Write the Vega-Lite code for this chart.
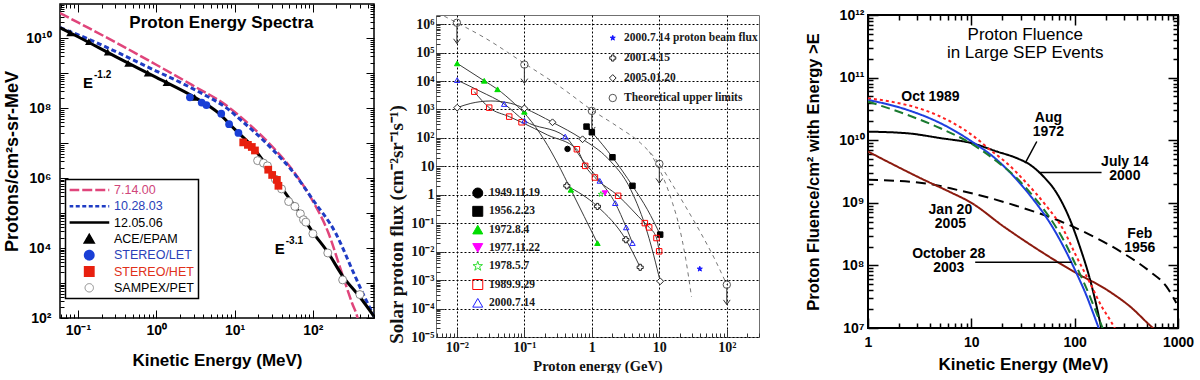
{
"$schema": "https://vega.github.io/schema/vega-lite/v6.json",
"background": "white",
"padding": {"left": 3, "top": -3, "right": 0, "bottom": 0},
"config": {"view": {"stroke": null}, "font": "Liberation Sans", "axis": {"domain": false, "grid": false, "labelOverlap": false, "labelFlush": false}},
"datasets": {
"p1lines": [
{"s":"7.14.00","E":0.0589,"F":5.25e10},{"s":"7.14.00","E":0.1,"F":2.82e10},{"s":"7.14.00","E":0.316,"F":7.24e9},{"s":"7.14.00","E":1,"F":1.74e9},{"s":"7.14.00","E":2.82,"F":4.68e8},{"s":"7.14.00","E":7.59,"F":1.26e8},{"s":"7.14.00","E":16.6,"F":2.95e7},{"s":"7.14.00","E":33.1,"F":6.46e6},{"s":"7.14.00","E":58.9,"F":1.38e6},{"s":"7.14.00","E":97.7,"F":2.4e5},{"s":"7.14.00","E":158,"F":2.69e4},{"s":"7.14.00","E":234,"F":1950},{"s":"7.14.00","E":316,"F":269},{"s":"7.14.00","E":372,"F":100},{"s":"7.14.00","E":398,"F":50},
{"s":"10.28.03","E":0.0589,"F":2.0e10},{"s":"10.28.03","E":0.141,"F":9.12e9},{"s":"10.28.03","E":0.316,"F":3.98e9},{"s":"10.28.03","E":1,"F":1.15e9},{"s":"10.28.03","E":2.19,"F":5.01e8},{"s":"10.28.03","E":3.98,"F":2.51e8},{"s":"10.28.03","E":7.94,"F":1.0e8},{"s":"10.28.03","E":12.6,"F":4.17e7},{"s":"10.28.03","E":20.0,"F":1.66e7},{"s":"10.28.03","E":30.2,"F":6.76e6},{"s":"10.28.03","E":57.5,"F":1.38e6},{"s":"10.28.03","E":100,"F":2.4e5},{"s":"10.28.03","E":195,"F":2.69e4},{"s":"10.28.03","E":331,"F":1950},{"s":"10.28.03","E":427,"F":550},{"s":"10.28.03","E":603,"F":112},
{"s":"12.05.06","E":0.0589,"F":2.0e10},{"s":"12.05.06","E":0.1,"F":1.1e10},{"s":"12.05.06","E":0.316,"F":2.82e9},{"s":"12.05.06","E":1,"F":7.59e8},{"s":"12.05.06","E":3.09,"F":2.04e8},{"s":"12.05.06","E":6.31,"F":7.08e7},{"s":"12.05.06","E":10,"F":2.51e7},{"s":"12.05.06","E":16.6,"F":8.32e6},{"s":"12.05.06","E":33.1,"F":1.0e6},{"s":"12.05.06","E":43.7,"F":3.98e5},{"s":"12.05.06","E":58.9,"F":1.58e5},{"s":"12.05.06","E":75.9,"F":7.08e4},{"s":"12.05.06","E":100,"F":2.82e4},{"s":"12.05.06","E":155,"F":7590},{"s":"12.05.06","E":240,"F":1585},{"s":"12.05.06","E":398,"F":398},{"s":"12.05.06","E":603,"F":112}
],
"p1pts": [
{"s":"ACE/EPAM","E":0.0794,"F":1.41e10},{"s":"ACE/EPAM","E":0.138,"F":7.94e9},{"s":"ACE/EPAM","E":0.24,"F":3.98e9},{"s":"ACE/EPAM","E":0.437,"F":1.91e9},{"s":"ACE/EPAM","E":0.776,"F":1.0e9},{"s":"ACE/EPAM","E":1.35,"F":5.37e8},{"s":"ACE/EPAM","E":3.09,"F":2.04e8},
{"s":"STEREO/LET","E":2.69,"F":2.04e8},{"s":"STEREO/LET","E":3.8,"F":1.45e8},{"s":"STEREO/LET","E":4.37,"F":1.23e8},{"s":"STEREO/LET","E":6.76,"F":6.92e7},{"s":"STEREO/LET","E":8.51,"F":3.47e7},{"s":"STEREO/LET","E":11.2,"F":1.95e7},
{"s":"SAMPEX/PET","E":19.7,"F":3.16e6},{"s":"SAMPEX/PET","E":23.4,"F":2.69e6},{"s":"SAMPEX/PET","E":26.3,"F":2.24e6},{"s":"SAMPEX/PET","E":33.1,"F":9.33e5},{"s":"SAMPEX/PET","E":39.8,"F":4.9e5},{"s":"SAMPEX/PET","E":49.0,"F":2.14e5},{"s":"SAMPEX/PET","E":58.9,"F":1.55e5},{"s":"SAMPEX/PET","E":69.2,"F":9.55e4},{"s":"SAMPEX/PET","E":75.9,"F":6.46e4},{"s":"SAMPEX/PET","E":81.3,"F":5.5e4},{"s":"SAMPEX/PET","E":100,"F":2.57e4},{"s":"SAMPEX/PET","E":155,"F":7240},{"s":"SAMPEX/PET","E":240,"F":1230},{"s":"SAMPEX/PET","E":398,"F":468},
{"s":"STEREO/HET","E":12.9,"F":1.05e7},{"s":"STEREO/HET","E":14.8,"F":8.91e6},{"s":"STEREO/HET","E":16.6,"F":7.76e6},{"s":"STEREO/HET","E":18.2,"F":6.17e6},{"s":"STEREO/HET","E":26.9,"F":1.74e6},{"s":"STEREO/HET","E":30.2,"F":1.23e6},{"s":"STEREO/HET","E":34.7,"F":8.91e5},{"s":"STEREO/HET","E":36.3,"F":6.03e5}
],
"p1text": [
{"k":"title","t":"Proton Energy Spectra","sup":"","E":6.8,"F":2.75e10},
{"k":"E","t":"E","sup":"-1.2","E":0.116,"F":5.4e8},
{"k":"E","t":"E","sup":"-3.1","E":32.6,"F":9500}
],
"p2lines": [
{"s":"2005","E":0.0101,"F":1160},{"s":"2005","E":0.0161,"F":1640},{"s":"2005","E":0.0319,"F":1990},{"s":"2005","E":0.0631,"F":1640},{"s":"2005","E":0.1,"F":1100},{"s":"2005","E":0.261,"F":355},{"s":"2005","E":0.728,"F":89.8},{"s":"2005","E":1.71,"F":19.4},{"s":"2005","E":3.78,"F":1.5},{"s":"2005","E":6.68,"F":0.0452},{"s":"2005","E":10.3,"F":0.000912},
{"s":"1956","E":0.834,"F":250},{"s":"1956","E":1.0,"F":158},{"s":"1956","E":2.02,"F":20.9},{"s":"1956","E":4.0,"F":2.07},{"s":"1956","E":6.68,"F":0.298},{"s":"1956","E":10.3,"F":0.0398},
{"s":"1972","E":0.0101,"F":41700},{"s":"1972","E":0.0254,"F":10200},{"s":"1972","E":0.04,"F":5130},{"s":"1972","E":0.0707,"F":1640},{"s":"1972","E":0.111,"F":561},{"s":"1972","E":0.197,"F":85.1},{"s":"1972","E":0.31,"F":12.9},{"s":"1972","E":0.489,"F":1.5},{"s":"1972","E":0.769,"F":0.174},{"s":"1972","E":1.21,"F":0.02},
{"s":"1989","E":0.0181,"F":4230},{"s":"1989","E":0.0301,"F":1160},{"s":"1989","E":0.0596,"F":561},{"s":"1989","E":0.0908,"F":355},{"s":"1989","E":0.22,"F":127},{"s":"1989","E":0.6,"F":40},{"s":"1989","E":0.796,"F":10.4},{"s":"1989","E":1.11,"F":4.06},{"s":"1989","E":2.45,"F":0.923},{"s":"1989","E":6.1,"F":0.101},{"s":"1989","E":7.07,"F":0.0714},{"s":"1989","E":9.08,"F":0.0302},{"s":"1989","E":9.95,"F":0.0103},
{"s":"2000","E":0.0101,"F":10800},{"s":"2000","E":0.0227,"F":4230},{"s":"2000","E":0.0502,"F":1560},{"s":"2000","E":0.1,"F":406},{"s":"2000","E":0.403,"F":111},{"s":"2000","E":0.728,"F":16.9},{"s":"2000","E":1.31,"F":3.1},{"s":"2000","E":2.22,"F":0.51},{"s":"2000","E":3.23,"F":0.0714},{"s":"2000","E":4.0,"F":0.0201},
{"s":"2001","E":0.426,"F":2.07},{"s":"2001","E":1.21,"F":0.39},{"s":"2001","E":3.19,"F":0.0264},{"s":"2001","E":5.2,"F":0.00282}
],
"p2dash": [
{"s":"env","E":0.00649,"F":1.91e6},{"s":"env","E":0.01,"F":1.12e6},{"s":"env","E":0.0254,"F":3.39e5},{"s":"env","E":0.1,"F":41700},{"s":"env","E":0.347,"F":6030},{"s":"env","E":1,"F":955},{"s":"env","E":2.4,"F":251},{"s":"env","E":5.32,"F":64.6},{"s":"env","E":10,"F":12.3},{"s":"env","E":15.7,"F":2.24},{"s":"env","E":26.1,"F":0.298},{"s":"env","E":41.2,"F":0.0452},{"s":"env","E":64.9,"F":0.00603},{"s":"env","E":100,"F":0.00069},
{"s":"env2","E":7.07,"F":33.1},{"s":"env2","E":11.8,"F":3.36},{"s":"env2","E":15.7,"F":0.51},{"s":"env2","E":19.7,"F":0.0776},{"s":"env2","E":24.7,"F":0.00525},{"s":"env2","E":30.0,"F":0.000257}
],
"p2arrow": [
{"E":0.01,"F0":8.9e5,"F2":2.09e5},{"E":0.1,"F0":30000,"F2":8300},{"E":1,"F0":708,"F2":166},{"E":10,"F0":9.8,"F2":2.57},{"E":100,"F0":0.00055,"F2":0.000138}
],
"p2ev": [
{"ev":"1949.11.19","E":0.436,"F":41.1},
{"ev":"1956.2.23","E":0.834,"F":250},{"ev":"1956.2.23","E":1.0,"F":158},{"ev":"1956.2.23","E":2.02,"F":20.9},{"ev":"1956.2.23","E":4.0,"F":2.07},{"ev":"1956.2.23","E":10.3,"F":0.0398},
{"ev":"1972.8.4","E":0.0101,"F":41700},{"ev":"1972.8.4","E":0.0254,"F":10200},{"ev":"1972.8.4","E":0.04,"F":5130},{"ev":"1972.8.4","E":0.1,"F":832},{"ev":"1972.8.4","E":0.489,"F":1.5},{"ev":"1972.8.4","E":1.21,"F":0.02},
{"ev":"1977.11.22","E":1.56,"F":1.14},
{"ev":"1978.5.7","E":1.36,"F":1.05},
{"ev":"1989.9.29","E":0.0181,"F":4230},{"ev":"1989.9.29","E":0.0301,"F":1160},{"ev":"1989.9.29","E":0.0596,"F":561},{"ev":"1989.9.29","E":0.0908,"F":355},{"ev":"1989.9.29","E":0.6,"F":40},{"ev":"1989.9.29","E":0.796,"F":10.4},{"ev":"1989.9.29","E":1.11,"F":4.06},{"ev":"1989.9.29","E":2.45,"F":0.923},{"ev":"1989.9.29","E":6.1,"F":0.101},{"ev":"1989.9.29","E":7.07,"F":0.0714},{"ev":"1989.9.29","E":9.08,"F":0.0302},{"ev":"1989.9.29","E":9.95,"F":0.0103},
{"ev":"2000.7.14","E":0.0101,"F":10800},{"ev":"2000.7.14","E":0.0502,"F":1560},{"ev":"2000.7.14","E":0.1,"F":406},{"ev":"2000.7.14","E":0.403,"F":111},{"ev":"2000.7.14","E":1.31,"F":3.1},{"ev":"2000.7.14","E":2.22,"F":0.51},{"ev":"2000.7.14","E":3.23,"F":0.0714},{"ev":"2000.7.14","E":4.0,"F":0.0201}
],
"p2ref": [
{"ref":"2000.7.14 proton beam flux","E":39.8,"F":0.00247},
{"ref":"2001.4.15","E":0.426,"F":2.07},{"ref":"2001.4.15","E":1.21,"F":0.39},{"ref":"2001.4.15","E":3.19,"F":0.0264},{"ref":"2001.4.15","E":5.2,"F":0.00282},
{"ref":"2005.01.20","E":0.0101,"F":1160},{"ref":"2005.01.20","E":0.1,"F":1100},{"ref":"2005.01.20","E":0.261,"F":355},{"ref":"2005.01.20","E":0.728,"F":89.8},{"ref":"2005.01.20","E":10.3,"F":0.000912},
{"ref":"Theoretical upper limits","E":0.01,"F":1.12e6},{"ref":"Theoretical upper limits","E":0.1,"F":38000},{"ref":"Theoretical upper limits","E":1,"F":891},{"ref":"Theoretical upper limits","E":10,"F":12.3},{"ref":"Theoretical upper limits","E":100,"F":0.00069}
],
"p3lines": [
{"s":"Feb 1956","E":1,"F":2.33e9},{"s":"Feb 1956","E":3.47,"F":2.06e9},{"s":"Feb 1956","E":7.27,"F":1.61e9},{"s":"Feb 1956","E":15.2,"F":1.19e9},{"s":"Feb 1956","E":32.0,"F":8.22e8},{"s":"Feb 1956","E":67.0,"F":5.36e8},{"s":"Feb 1956","E":141,"F":3.08e8},{"s":"Feb 1956","E":295,"F":1.57e8},{"s":"Feb 1956","E":533,"F":8.02e7},{"s":"Feb 1956","E":771,"F":4.62e7},{"s":"Feb 1956","E":964,"F":2.51e7},
{"s":"Jan 20 2005","E":1,"F":6.59e9},{"s":"Jan 20 2005","E":1.65,"F":4.3e9},{"s":"Jan 20 2005","E":3.47,"F":2.33e9},{"s":"Jan 20 2005","E":6.04,"F":1.52e9},{"s":"Jan 20 2005","E":10.1,"F":9.89e8},{"s":"Jan 20 2005","E":20.5,"F":4.19e8},{"s":"Jan 20 2005","E":49.9,"F":1.57e8},{"s":"Jan 20 2005","E":97.0,"F":8.02e7},{"s":"Jan 20 2005","E":204,"F":4.09e7},{"s":"Jan 20 2005","E":342,"F":2.22e7},{"s":"Jan 20 2005","E":574,"F":1.0e7},{"s":"Jan 20 2005","E":650,"F":8.5e6},
{"s":"Aug 1972","E":1,"F":1.37e10},{"s":"Aug 1972","E":2.4,"F":1.29e10},{"s":"Aug 1972","E":5.02,"F":1.08e10},{"s":"Aug 1972","E":10.1,"F":8.96e9},{"s":"Aug 1972","E":17.7,"F":6.59e9},{"s":"Aug 1972","E":27.6,"F":5.16e9},{"s":"Aug 1972","E":37.1,"F":4.04e9},{"s":"Aug 1972","E":49.9,"F":2.63e9},{"s":"Aug 1972","E":67.0,"F":1.43e9},{"s":"Aug 1972","E":90.2,"F":5.36e8},{"s":"Aug 1972","E":112,"F":2.01e8},{"s":"Aug 1972","E":141,"F":5.9e7},{"s":"Aug 1972","E":163,"F":2.22e7},{"s":"Aug 1972","E":182,"F":9.4e6},
{"s":"July 14 2000","E":1,"F":4.41e10},{"s":"July 14 2000","E":2.4,"F":3.05e10},{"s":"July 14 2000","E":5.02,"F":1.87e10},{"s":"July 14 2000","E":10.1,"F":9.53e9},{"s":"July 14 2000","E":17.7,"F":4.85e9},{"s":"July 14 2000","E":27.6,"F":2.33e9},{"s":"July 14 2000","E":39.9,"F":1.12e9},{"s":"July 14 2000","E":57.8,"F":4.74e8},{"s":"July 14 2000","E":77.8,"F":2.01e8},{"s":"July 14 2000","E":104,"F":7.55e7},{"s":"July 14 2000","E":131,"F":3.2e7},{"s":"July 14 2000","E":151,"F":1.73e7},{"s":"July 14 2000","E":173,"F":9.4e6},
{"s":"Oct 28 2003","E":1,"F":4.14e10},{"s":"Oct 28 2003","E":2.4,"F":2.54e10},{"s":"Oct 28 2003","E":5.02,"F":1.55e10},{"s":"Oct 28 2003","E":10.1,"F":8.73e9},{"s":"Oct 28 2003","E":17.7,"F":4.57e9},{"s":"Oct 28 2003","E":27.6,"F":2.48e9},{"s":"Oct 28 2003","E":39.9,"F":1.26e9},{"s":"Oct 28 2003","E":57.8,"F":5.69e8},{"s":"Oct 28 2003","E":77.8,"F":2.57e8},{"s":"Oct 28 2003","E":104,"F":9.64e7},{"s":"Oct 28 2003","E":136,"F":3.62e7},{"s":"Oct 28 2003","E":163,"F":1.73e7},{"s":"Oct 28 2003","E":189,"F":9.4e6},
{"s":"Oct 1989","E":1,"F":4.68e10},{"s":"Oct 1989","E":1.65,"F":4.14e10},{"s":"Oct 1989","E":3.47,"F":3.05e10},{"s":"Oct 1989","E":6.27,"F":1.99e10},{"s":"Oct 1989","E":10.1,"F":1.22e10},{"s":"Oct 1989","E":15.2,"F":7.01e9},{"s":"Oct 1989","E":22.1,"F":4.3e9},{"s":"Oct 1989","E":32.0,"F":2.33e9},{"s":"Oct 1989","E":53.7,"F":8.73e8},{"s":"Oct 1989","E":77.8,"F":3.71e8},{"s":"Oct 1989","E":104,"F":1.39e8},{"s":"Oct 1989","E":141,"F":5.22e7},{"s":"Oct 1989","E":182,"F":2.22e7},{"s":"Oct 1989","E":219,"F":1.36e7},{"s":"Oct 1989","E":254,"F":8.9e6}
],
"p3text": [
{"t":"Oct 1989","E":4.02,"F":4.85e10},
{"t":"Aug\n1972","E":55.7,"F":2.24e10},
{"t":"July 14\n2000","E":306,"F":4.41e9},
{"t":"Jan 20\n2005","E":6.27,"F":7.55e8},
{"t":"October 28\n2003","E":6.04,"F":1.53e8},
{"t":"Feb\n1956","E":427,"F":3.2e8}
],
"p3title": [{"t":"Proton Fluence\nin Large SEP Events","E":33.2,"F":4.8e11}],
"p3lead": [
{"E":43.0,"E2":33.2,"F":9.53e9,"F2":4.3e9},
{"E":182,"E2":44.7,"F":3.05e9,"F2":3.05e9},
{"E":10.9,"E2":93.5,"F":1.12e8,"F2":1.12e8}
]
},
"bounds": "flush",
"spacing": 62,
"resolve": {"scale": {"color": "independent", "fill": "independent", "stroke": "independent", "shape": "independent", "size": "independent", "strokeDash": "independent", "strokeWidth": "independent"}},
"hconcat": [
{
"width": 314, "height": 314,
"view": {"stroke": "black", "strokeWidth": 1.5},
"resolve": {"axis": {"x": "independent", "y": "independent"}},
"encoding": {
"x": {"field": "E", "type": "quantitative", "scale": {"type": "log", "domain": [0.059, 603], "nice": false}, "axis": null},
"y": {"field": "F", "type": "quantitative", "scale": {"type": "log", "domain": [100, 9.5e10], "nice": false}, "axis": null}
},
"layer": [
{"data": {"name": "p1lines"}, "transform": [{"filter": "datum.s == '7.14.00'"}],
 "mark": {"type": "line", "color": "#e0457b", "strokeWidth": 2.5, "strokeDash": [10, 3], "clip": true, "interpolate": "monotone"},
 "encoding": {
  "x": {"field": "E", "type": "quantitative", "scale": {"type": "log", "domain": [0.059, 603], "nice": false},
   "axis": {"orient": "top", "labels": false, "title": null, "tickCount": 20, "tickColor": "black", "tickWidth": 1, "tickSize": {"condition": {"test": "abs(log(datum.value)/LN10 - round(log(datum.value)/LN10)) < 0.000001", "value": -8}, "value": -4}}},
  "y": {"field": "F", "type": "quantitative", "scale": {"type": "log", "domain": [100, 9.5e10], "nice": false},
   "axis": {"orient": "right", "labels": false, "title": null, "tickCount": 20, "tickColor": "black", "tickWidth": 1, "tickSize": {"condition": {"test": "abs(log(datum.value)/LN10 - round(log(datum.value)/LN10)) < 0.000001", "value": -8}, "value": -4}}}
 }},
{"data": {"name": "p1lines"}, "transform": [{"filter": "datum.s == '10.28.03'"}],
 "mark": {"type": "line", "color": "#1f3cc4", "strokeWidth": 3, "strokeDash": [5, 3], "clip": true, "interpolate": "monotone"}},
{"data": {"name": "p1lines"}, "transform": [{"filter": "datum.s == '12.05.06'"}],
 "mark": {"type": "line", "strokeWidth": 3, "clip": true, "interpolate": "monotone"},
 "encoding": {
  "x": {"field": "E", "type": "quantitative", "scale": {"type": "log", "domain": [0.059, 603], "nice": false},
   "axis": {"orient": "bottom", "title": "Kinetic Energy (MeV)", "titleFont": "Liberation Sans", "titleFontSize": 17, "titleFontWeight": "bold", "titleColor": "black", "titlePadding": 11,
    "labelFont": "Liberation Sans", "labelFontSize": 14, "labelFontWeight": "bold", "labelColor": "black", "labelPadding": 13,
    "tickCount": 20, "tickColor": "black", "tickWidth": 1, "tickSize": {"condition": {"test": "abs(log(datum.value)/LN10 - round(log(datum.value)/LN10)) < 0.000001", "value": -8}, "value": -4},
    "labelExpr": "abs(log(datum.value)/LN10 - round(log(datum.value)/LN10)) < 0.000001 ? ['10⁻⁵','10⁻⁴','10⁻³','10⁻²','10⁻¹','10⁰','10¹','10²','10³','10⁴','10⁵','10⁶','10⁷','10⁸','10⁹','10¹⁰','10¹¹','10¹²'][round(log(datum.value)/LN10)+5] : ''"}},
  "y": {"field": "F", "type": "quantitative", "scale": {"type": "log", "domain": [100, 9.5e10], "nice": false},
   "axis": {"orient": "left", "title": "Protons/cm²s-sr-MeV", "titleFont": "Liberation Sans", "titleFontSize": 18, "titleFontWeight": "bold", "titleColor": "black", "titlePadding": 4,
    "labelFont": "Liberation Sans", "labelFontSize": 14, "labelFontWeight": "bold", "labelColor": "black", "labelPadding": 17,
    "tickCount": 20, "tickColor": "black", "tickWidth": 1, "tickSize": {"condition": {"test": "abs(log(datum.value)/LN10 - round(log(datum.value)/LN10)) < 0.000001", "value": -8}, "value": -4},
    "labelExpr": "abs(log(datum.value)/LN10 - round(log(datum.value)/LN10)) < 0.000001 && round(log(datum.value)/LN10) % 2 == 0 ? ['10⁻⁵','10⁻⁴','10⁻³','10⁻²','10⁻¹','10⁰','10¹','10²','10³','10⁴','10⁵','10⁶','10⁷','10⁸','10⁹','10¹⁰','10¹¹','10¹²'][round(log(datum.value)/LN10)+5] : ''"}},
  "color": {"field": "s", "type": "nominal",
   "scale": {"domain": ["7.14.00","10.28.03","12.05.06","ACE/EPAM","STEREO/LET","STEREO/HET","SAMPEX/PET"], "range": ["#e0457b","#1f3cc4","black","black","#1a3fd6","#e8200f","#888888"]},
   "legend": {"title": null, "orient": "none", "legendX": 5.5, "legendY": 175.5, "values": ["7.14.00","10.28.03","12.05.06","ACE/EPAM","STEREO/LET","STEREO/HET","SAMPEX/PET"],
    "padding": 4, "fillColor": "white", "strokeColor": "black", "labelFont": "Liberation Sans", "labelFontSize": 12.5, "labelOffset": 18.5, "symbolOffset": 13.5,
    "symbolSize": 1600, "symbolType": "stroke", "symbolStrokeWidth": 2.5, "clipHeight": 13, "rowPadding": 3.3,
    "encode": {
     "symbols": {"update": {
      "shape": {"signal": "datum.value == 'ACE/EPAM' ? 'triangle-up' : datum.value == 'STEREO/HET' ? 'square' : (datum.value == 'STEREO/LET' || datum.value == 'SAMPEX/PET') ? 'circle' : 'stroke'"},
      "size": {"signal": "(datum.value == 'ACE/EPAM' || datum.value == 'STEREO/HET' || datum.value == 'STEREO/LET' || datum.value == 'SAMPEX/PET') ? 70 : 1600"},
      "fill": {"signal": "datum.value == 'ACE/EPAM' ? 'black' : datum.value == 'STEREO/LET' ? '#1a3fd6' : datum.value == 'STEREO/HET' ? '#e8200f' : datum.value == 'SAMPEX/PET' ? 'white' : 'transparent'"},
      "stroke": {"signal": "datum.value == '7.14.00' ? '#e0457b' : datum.value == '10.28.03' ? '#1f3cc4' : datum.value == '12.05.06' ? 'black' : datum.value == 'SAMPEX/PET' ? '#888888' : 'transparent'"},
      "strokeWidth": {"signal": "datum.value == 'SAMPEX/PET' ? 1 : 2.5"},
      "strokeDash": {"signal": "datum.value == '7.14.00' ? [10,3] : datum.value == '10.28.03' ? [4,2.5] : [1,0]"},
      "opacity": {"value": 1}
     }},
     "labels": {"update": {"fill": {"signal": "datum.value == '7.14.00' ? '#d0457a' : (datum.value == '10.28.03' || datum.value == 'STEREO/LET') ? '#2a3fb8' : datum.value == 'STEREO/HET' ? '#e0301a' : 'black'"}}},
     "legend": {"update": {"strokeWidth": {"value": 1.5}}}
    }}}
 }},
{"data": {"name": "p1pts"}, "transform": [{"filter": "datum.s == 'SAMPEX/PET'"}],
 "mark": {"type": "point", "shape": "circle", "filled": false, "fill": "white", "stroke": "#8a8a8a", "strokeWidth": 1, "size": 64, "opacity": 1}},
{"data": {"name": "p1pts"}, "transform": [{"filter": "datum.s != 'SAMPEX/PET'"}],
 "mark": {"type": "point", "filled": true, "size": 60, "opacity": 1},
 "encoding": {
  "shape": {"field": "s", "type": "nominal", "scale": {"domain": ["ACE/EPAM","STEREO/LET","STEREO/HET"], "range": ["triangle-up","circle","square"]}, "legend": null},
  "fill": {"field": "s", "type": "nominal", "scale": {"domain": ["ACE/EPAM","STEREO/LET","STEREO/HET"], "range": ["black","#1a3fd6","#e8200f"]}, "legend": null}
 }},
{"data": {"name": "p1text"}, "transform": [{"filter": "datum.k == 'title'"}],
 "mark": {"type": "text", "font": "Liberation Sans", "fontSize": 17, "fontWeight": "bold", "align": "center", "baseline": "middle", "color": "black"},
 "encoding": {"text": {"field": "t"}}},
{"data": {"name": "p1text"}, "transform": [{"filter": "datum.k == 'E'"}],
 "mark": {"type": "text", "font": "Liberation Sans", "fontSize": 15, "fontWeight": "bold", "align": "left", "baseline": "middle", "color": "black"},
 "encoding": {"text": {"field": "t"}}},
{"data": {"name": "p1text"}, "transform": [{"filter": "datum.k == 'E'"}],
 "mark": {"type": "text", "font": "Liberation Sans", "fontSize": 10, "fontWeight": "bold", "align": "left", "baseline": "middle", "color": "black", "dx": 11, "dy": -8},
 "encoding": {"text": {"field": "sup"}}}
]
},
{
"bounds": "flush",
"spacing": 10,
"resolve": {"scale": {"color": "independent", "fill": "independent", "stroke": "independent", "shape": "independent", "size": "independent", "strokeDash": "independent", "strokeWidth": "independent"}},
"vconcat": [
{"width": 1, "height": 1, "data": {"values": [{"a": 1}]}, "mark": {"type": "point", "opacity": 0, "size": 0, "strokeWidth": 0}, "view": {"stroke": null}},
{
"bounds": "flush",
"spacing": 109,
"resolve": {"scale": {"color": "independent", "fill": "independent", "stroke": "independent", "shape": "independent", "size": "independent", "strokeDash": "independent", "strokeWidth": "independent"}},
"hconcat": [
{
"width": 323, "height": 322,
"view": {"stroke": "#707070", "strokeWidth": 1},
"resolve": {"axis": {"x": "independent", "y": "independent"}, "scale": {"fill": "independent", "stroke": "independent", "shape": "independent", "size": "independent"}},
"encoding": {
"x": {"field": "E", "type": "quantitative", "scale": {"type": "log", "domain": [0.0049, 300], "nice": false}, "axis": null},
"y": {"field": "F", "type": "quantitative", "scale": {"type": "log", "domain": [1e-5, 2.1e6], "nice": false}, "axis": null}
},
"layer": [
{"data": {"name": "p2dash"},
 "mark": {"type": "line", "color": "#777777", "strokeWidth": 1, "strokeDash": [4, 4], "clip": true, "interpolate": "monotone"},
 "encoding": {
  "detail": {"field": "s"},
  "x": {"field": "E", "type": "quantitative", "scale": {"type": "log", "domain": [0.0049, 300], "nice": false},
   "axis": {"orient": "bottom", "title": "Proton energy (GeV)", "titleFont": "Liberation Serif", "titleFontSize": 14.5, "titleFontWeight": "bold", "titleColor": "#111", "titlePadding": 1,
    "labelFont": "Liberation Serif", "labelFontSize": 14, "labelFontWeight": "bold", "labelColor": "#111", "labelPadding": 11,
    "tickCount": 20, "tickColor": "#333", "tickWidth": 1, "tickSize": {"condition": {"test": "abs(log(datum.value)/LN10 - round(log(datum.value)/LN10)) < 0.000001", "value": -8}, "value": -4},
    "grid": true, "gridColor": "black", "gridDash": [2, 2], "gridWidth": 1, "gridOpacity": {"condition": {"test": "abs(log(datum.value)/LN10 - round(log(datum.value)/LN10)) < 0.000001", "value": 1}, "value": 0},
    "labelExpr": "abs(log(datum.value)/LN10 - round(log(datum.value)/LN10)) < 0.000001 ? ['10⁻⁵','10⁻⁴','10⁻³','10⁻²','10⁻¹','1','10','10²','10³','10⁴','10⁵','10⁶'][round(log(datum.value)/LN10)+5] : ''"}},
  "y": {"field": "F", "type": "quantitative", "scale": {"type": "log", "domain": [1e-5, 2.1e6], "nice": false},
   "axis": {"orient": "left", "title": "Solar proton flux (cm⁻²sr⁻¹s⁻¹)", "titleFont": "Liberation Serif", "titleFontSize": 19, "titleFontWeight": "bold", "titleColor": "#111", "titleX": -30, "titleY": 209,
    "labelFont": "Liberation Serif", "labelFontSize": 14, "labelFontWeight": "bold", "labelColor": "#111", "labelPadding": 10,
    "tickCount": 20, "tickColor": "#333", "tickWidth": 1, "tickSize": {"condition": {"test": "abs(log(datum.value)/LN10 - round(log(datum.value)/LN10)) < 0.000001", "value": -8}, "value": -4},
    "grid": true, "gridColor": "black", "gridDash": [2, 2], "gridWidth": 1, "gridOpacity": {"condition": {"test": "abs(log(datum.value)/LN10 - round(log(datum.value)/LN10)) < 0.000001", "value": 1}, "value": 0},
    "labelExpr": "abs(log(datum.value)/LN10 - round(log(datum.value)/LN10)) < 0.000001 ? ['10⁻⁵','10⁻⁴','10⁻³','10⁻²','10⁻¹','1','10','10²','10³','10⁴','10⁵','10⁶'][round(log(datum.value)/LN10)+5] : ''"}}
 }},
{"data": {"name": "p2lines"},
 "mark": {"type": "line", "color": "#3a3a3a", "strokeWidth": 1, "clip": true, "interpolate": "monotone"},
 "encoding": {"detail": {"field": "s"}}},
{"data": {"name": "p2arrow"},
 "mark": {"type": "rule", "color": "#333333", "strokeWidth": 1},
 "encoding": {"y": {"field": "F0", "type": "quantitative", "scale": {"type": "log", "domain": [1e-5, 2.1e6], "nice": false}, "axis": null}, "y2": {"field": "F2"}}},
{"data": {"name": "p2arrow"},
 "mark": {"type": "point", "shape": "M-1,-1.4L0,0L1,-1.4", "filled": false, "fill": "transparent", "stroke": "#333333", "strokeWidth": 1, "size": 45, "opacity": 1},
 "encoding": {"y": {"field": "F2", "type": "quantitative", "scale": {"type": "log", "domain": [1e-5, 2.1e6], "nice": false}, "axis": null}}},
{"data": {"name": "p2ev"},
 "mark": {"type": "point", "size": 30, "strokeWidth": 1, "opacity": 1},
 "encoding": {
  "shape": {"field": "ev", "type": "nominal", "scale": {"domain": ["1949.11.19","1956.2.23","1972.8.4","1977.11.22","1978.5.7","1989.9.29","2000.7.14"], "range": ["circle","square","triangle-up","triangle-down","M0,-1L0.2245,-0.309L0.951,-0.309L0.363,0.118L0.588,0.809L0,0.382L-0.588,0.809L-0.363,0.118L-0.951,-0.309L-0.2245,-0.309Z","square","triangle-up"]},
   "legend": {"title": null, "orient": "none", "legendX": 36, "legendY": 172, "padding": 0, "labelFont": "Liberation Serif", "labelFontSize": 11.5, "labelFontWeight": "bold", "labelColor": "#1a1a1a", "labelOffset": 5.5, "clipHeight": 12, "rowPadding": 6.3, "symbolStrokeWidth": 1}},
  "fill": {"field": "ev", "type": "nominal", "scale": {"domain": ["1949.11.19","1956.2.23","1972.8.4","1977.11.22","1978.5.7","1989.9.29","2000.7.14"], "range": ["black","black","#00dd00","#ff00ff","transparent","transparent","transparent"]},
   "legend": {"title": null, "orient": "none", "legendX": 36, "legendY": 172, "padding": 0, "labelFont": "Liberation Serif", "labelFontSize": 11.5, "labelFontWeight": "bold", "labelColor": "#1a1a1a", "labelOffset": 5.5, "clipHeight": 12, "rowPadding": 6.3, "symbolStrokeWidth": 1}},
  "stroke": {"field": "ev", "type": "nominal", "scale": {"domain": ["1949.11.19","1956.2.23","1972.8.4","1977.11.22","1978.5.7","1989.9.29","2000.7.14"], "range": ["black","black","#00dd00","#ff00ff","#33dd33","#ff0000","#2020ff"]},
   "legend": {"title": null, "orient": "none", "legendX": 36, "legendY": 172, "padding": 0, "labelFont": "Liberation Serif", "labelFontSize": 11.5, "labelFontWeight": "bold", "labelColor": "#1a1a1a", "labelOffset": 5.5, "clipHeight": 12, "rowPadding": 6.3, "symbolStrokeWidth": 1}}
 }},
{"data": {"name": "p2ref"},
 "mark": {"type": "point", "strokeWidth": 1, "opacity": 1},
 "encoding": {
  "shape": {"field": "ref", "type": "nominal", "scale": {"domain": ["2000.7.14 proton beam flux","2001.4.15","2005.01.20","Theoretical upper limits"], "range": ["M0,-1L0.2245,-0.309L0.951,-0.309L0.363,0.118L0.588,0.809L0,0.382L-0.588,0.809L-0.363,0.118L-0.951,-0.309L-0.2245,-0.309Z","cross","diamond","circle"]},
   "legend": {"title": null, "orient": "none", "legendX": 171, "legendY": 17, "padding": 0, "labelFont": "Liberation Serif", "labelFontSize": 11.5, "labelFontWeight": "bold", "labelColor": "#1a1a1a", "labelOffset": 5.5, "clipHeight": 12, "rowPadding": 8, "symbolStrokeWidth": 1}},
  "fill": {"field": "ref", "type": "nominal", "scale": {"domain": ["2000.7.14 proton beam flux","2001.4.15","2005.01.20","Theoretical upper limits"], "range": ["#1010ff","white","white","transparent"]},
   "legend": {"title": null, "orient": "none", "legendX": 171, "legendY": 17, "padding": 0, "labelFont": "Liberation Serif", "labelFontSize": 11.5, "labelFontWeight": "bold", "labelColor": "#1a1a1a", "labelOffset": 5.5, "clipHeight": 12, "rowPadding": 8, "symbolStrokeWidth": 1}},
  "stroke": {"field": "ref", "type": "nominal", "scale": {"domain": ["2000.7.14 proton beam flux","2001.4.15","2005.01.20","Theoretical upper limits"], "range": ["#1010ff","#222222","#222222","#555555"]},
   "legend": {"title": null, "orient": "none", "legendX": 171, "legendY": 17, "padding": 0, "labelFont": "Liberation Serif", "labelFontSize": 11.5, "labelFontWeight": "bold", "labelColor": "#1a1a1a", "labelOffset": 5.5, "clipHeight": 12, "rowPadding": 8, "symbolStrokeWidth": 1}},
  "size": {"field": "ref", "type": "nominal", "scale": {"domain": ["2000.7.14 proton beam flux","2001.4.15","2005.01.20","Theoretical upper limits"], "range": [28, 55, 22, 70]},
   "legend": {"title": null, "orient": "none", "legendX": 171, "legendY": 17, "padding": 0, "labelFont": "Liberation Serif", "labelFontSize": 11.5, "labelFontWeight": "bold", "labelColor": "#1a1a1a", "labelOffset": 5.5, "clipHeight": 12, "rowPadding": 8, "symbolStrokeWidth": 1}}
 }}
]
},
{
"width": 310, "height": 313,
"view": {"stroke": "black", "strokeWidth": 2},
"resolve": {"axis": {"x": "independent", "y": "independent"}},
"encoding": {
"x": {"field": "E", "type": "quantitative", "scale": {"type": "log", "domain": [1, 1000], "nice": false}, "axis": null},
"y": {"field": "F", "type": "quantitative", "scale": {"type": "log", "domain": [1e7, 1e12], "nice": false}, "axis": null}
},
"layer": [
{"data": {"name": "p3lines"},
 "mark": {"type": "line", "clip": true, "interpolate": "monotone"},
 "encoding": {
  "x": {"field": "E", "type": "quantitative", "scale": {"type": "log", "domain": [1, 1000], "nice": false},
   "axis": {"orient": "bottom", "title": "Kinetic Energy (MeV)", "titleFont": "Liberation Sans", "titleFontSize": 17, "titleFontWeight": "bold", "titleColor": "black", "titlePadding": 2,
    "labelFont": "Liberation Sans", "labelFontSize": 14, "labelFontWeight": "bold", "labelColor": "black", "labelPadding": 17,
    "tickCount": 20, "tickColor": "black", "tickWidth": 1.5, "tickSize": {"condition": {"test": "abs(log(datum.value)/LN10 - round(log(datum.value)/LN10)) < 0.000001", "value": -10}, "value": -5},
    "labelExpr": "abs(log(datum.value)/LN10 - round(log(datum.value)/LN10)) < 0.000001 ? ['1','10','100','1000'][round(log(datum.value)/LN10)] : ''"}},
  "y": {"field": "F", "type": "quantitative", "scale": {"type": "log", "domain": [1e7, 1e12], "nice": false},
   "axis": {"orient": "left", "title": "Proton Fluence/cm² with Energy >E", "titleFont": "Liberation Sans", "titleFontSize": 16.5, "titleFontWeight": "bold", "titleColor": "black", "titlePadding": 17,
    "labelFont": "Liberation Sans", "labelFontSize": 14, "labelFontWeight": "bold", "labelColor": "black", "labelPadding": 14,
    "tickCount": 20, "tickColor": "black", "tickWidth": 1.5, "tickSize": {"condition": {"test": "abs(log(datum.value)/LN10 - round(log(datum.value)/LN10)) < 0.000001", "value": -10}, "value": -5},
    "labelExpr": "abs(log(datum.value)/LN10 - round(log(datum.value)/LN10)) < 0.000001 ? ['10⁻⁵','10⁻⁴','10⁻³','10⁻²','10⁻¹','10⁰','10¹','10²','10³','10⁴','10⁵','10⁶','10⁷','10⁸','10⁹','10¹⁰','10¹¹','10¹²'][round(log(datum.value)/LN10)+5] : ''"}},
  "color": {"field": "s", "type": "nominal", "legend": null, "scale": {"domain": ["Feb 1956","Jan 20 2005","Aug 1972","July 14 2000","Oct 28 2003","Oct 1989"], "range": ["black","#8b1a0e","black","#1f3fdf","#1a7a30","#ff2020"]}},
  "strokeDash": {"field": "s", "type": "nominal", "legend": null, "scale": {"domain": ["Feb 1956","Jan 20 2005","Aug 1972","July 14 2000","Oct 28 2003","Oct 1989"], "range": [[10, 6], [1, 0], [1, 0], [1, 0], [9, 5], [3, 3]]}},
  "strokeWidth": {"field": "s", "type": "nominal", "legend": null, "scale": {"domain": ["Feb 1956","Jan 20 2005","Aug 1972","July 14 2000","Oct 28 2003","Oct 1989"], "range": [2, 2, 2, 2.5, 2.5, 2.5]}}
 }},
{"data": {"name": "p3lead"},
 "mark": {"type": "rule", "color": "black", "strokeWidth": 1.5},
 "encoding": {
  "x": {"field": "E", "type": "quantitative", "scale": {"type": "log", "domain": [1, 1000], "nice": false},
   "axis": {"orient": "top", "labels": false, "title": null, "tickCount": 20, "tickColor": "black", "tickWidth": 1.5, "tickSize": {"condition": {"test": "abs(log(datum.value)/LN10 - round(log(datum.value)/LN10)) < 0.000001", "value": -10}, "value": -5}}},
  "x2": {"field": "E2"},
  "y": {"field": "F", "type": "quantitative", "scale": {"type": "log", "domain": [1e7, 1e12], "nice": false},
   "axis": {"orient": "right", "labels": false, "title": null, "tickCount": 20, "tickColor": "black", "tickWidth": 1.5, "tickSize": {"condition": {"test": "abs(log(datum.value)/LN10 - round(log(datum.value)/LN10)) < 0.000001", "value": -10}, "value": -5}}},
  "y2": {"field": "F2"}
 }},
{"data": {"name": "p3text"},
 "mark": {"type": "text", "font": "Liberation Sans", "fontSize": 14, "fontWeight": "bold", "align": "center", "baseline": "middle", "lineBreak": "\n", "lineHeight": 14, "color": "black"},
 "encoding": {"text": {"field": "t"}}},
{"data": {"name": "p3title"},
 "mark": {"type": "text", "font": "Liberation Sans", "fontSize": 17, "fontWeight": "normal", "align": "center", "baseline": "middle", "lineBreak": "\n", "lineHeight": 18, "color": "black"},
 "encoding": {"text": {"field": "t"}}}
]
}
]
}
]
}
]
}
